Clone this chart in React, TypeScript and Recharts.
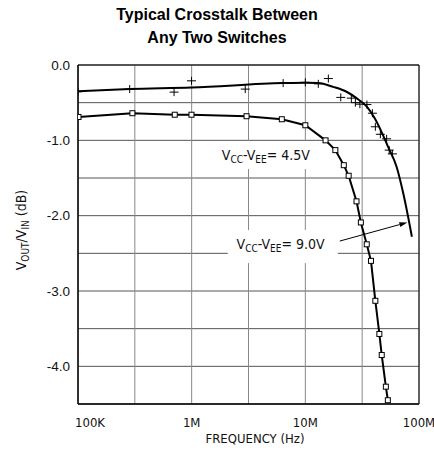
import {
  ComposedChart,
  Line,
  Scatter,
  XAxis,
  YAxis,
  CartesianGrid,
  ReferenceArea,
  ReferenceDot,
  ReferenceLine,
  Customized,
} from 'recharts'

// plotter-style font for the axis texts, Arial-like for title and y ticks
const DIN = '"DejaVu Sans Condensed", "DejaVu Sans", sans-serif'
const ARIAL = '"Liberation Sans", Arial, sans-serif'

// x axis: log frequency, grid every half decade, labels on decades
const xTicks = [100000, 316228, 1000000, 3162278, 10000000, 31622777, 100000000]
const xLabelValues = [100000, 1000000, 10000000, 100000000]
const xLabelTexts = ['100K', '1M', '10M', '100M']

// y axis: dB, grid every 0.5
const yTicks = [0, -0.5, -1, -1.5, -2, -2.5, -3, -3.5, -4, -4.5]

// curve with square markers
const squareFreq = [101000, 301000, 710000, 996000, 3040000, 6210000, 10000000, 15060000, 18370000, 21800000,
  24050000, 28200000, 30800000, 34700000, 37800000, 41300000, 44800000, 47000000, 51100000, 53200000]
const squareDb = [-0.69, -0.64, -0.66, -0.66, -0.68, -0.72, -0.8, -1.0, -1.13, -1.33,
  -1.47, -1.81, -2.09, -2.38, -2.6, -3.13, -3.57, -3.85, -4.27, -4.45]

// smooth curve drawn through the "+" measurements
const upperFreq = [100000, 285000, 1000000, 6380000, 10000000, 13000000, 17570000, 23050000, 28200000,
  34600000, 40900000, 46900000, 53600000, 63500000, 72600000, 80300000, 86600000]
const upperDb = [-0.35, -0.32, -0.3, -0.24, -0.235, -0.24, -0.29, -0.355, -0.44,
  -0.55, -0.71, -0.89, -1.09, -1.35, -1.7, -2.02, -2.28]

// "+" measurement points
const plusFreq = [100000, 285000, 700000, 996000, 2960000, 6380000, 10000000, 13000000, 15940000, 20500000,
  25400000, 27550000, 30200000, 34800000, 38900000, 41300000, 45700000, 51900000, 54700000, 58300000]
const plusDb = [-0.355, -0.32, -0.36, -0.21, -0.32, -0.24, -0.23, -0.25, -0.18, -0.43,
  -0.44, -0.5, -0.52, -0.525, -0.64, -0.82, -0.92, -0.98, -1.13, -1.18]

// annotations
const label45 = { f: 1840000, v: -1.255, text: '4.5V' }
const label90 = { f: 2480000, v: -2.448, text: '9.0V' }
const arrowFrom = { x: 20100000, y: -2.337 }
const arrowTo = { x: 79000000, y: -2.09 }

const squares = squareFreq.map((f, i) => ({ f, v: squareDb[i] }))
const upper = upperFreq.map((f, i) => ({ f, v: upperDb[i] }))
const pluses = plusFreq.map((f, i) => ({ f, v: plusDb[i] }))

function SquareDot(props: any) {
  const { cx, cy } = props
  if (cx == null || cy == null) return null
  return <rect x={cx - 2.5} y={cy - 2.5} width={5} height={5} fill="#fff" stroke="#000" strokeWidth={1} />
}

function PlusShape(props: any) {
  const { cx, cy } = props
  if (cx == null || cy == null) return null
  return (
    <path d={`M${cx - 4.5},${cy}H${cx + 4.5}M${cx},${cy - 4}V${cy + 4}`} stroke="#000" strokeWidth={1} fill="none" />
  )
}

function XTick(props: any) {
  const { x, y, payload } = props
  const i = xLabelValues.indexOf(payload.value)
  if (i < 0) return null
  const first = i === 0
  return (
    <text x={first ? x - 3 : x} y={y + 15} textAnchor={first ? 'start' : 'middle'}
      fontFamily={DIN} fontSize={13} fill="#111">
      {xLabelTexts[i]}
    </text>
  )
}

function supplyLabel(value: string, box: number[]) {
  return (props: any) => {
    const { cx, cy } = props
    return (
      <g>
        <rect x={cx + box[0]} y={cy + box[1]} width={box[2]} height={box[3]} fill="#fff" />
        <text x={cx} y={cy} fontFamily={DIN} fontSize={14} fill="#111">
          V<tspan fontSize={10} dy={3}>CC</tspan>
          <tspan dy={-3}>-V</tspan>
          <tspan fontSize={10} dy={3}>EE</tspan>
          <tspan dy={-3}>= {value}</tspan>
        </text>
      </g>
    )
  }
}

function ArrowShape(props: any) {
  const { x1, y1, x2, y2 } = props
  if ([x1, y1, x2, y2].some((n) => n == null)) return null
  const a = Math.atan2(y2 - y1, x2 - x1)
  const len = 8
  const w = 2.5
  const bx = x2 - len * Math.cos(a)
  const by = y2 - len * Math.sin(a)
  const px = -Math.sin(a) * w
  const py = Math.cos(a) * w
  return (
    <g>
      <line x1={x1} y1={y1} x2={bx} y2={by} stroke="#000" strokeWidth={1} />
      <path d={`M${x2},${y2}L${bx + px},${by + py}L${bx - px},${by - py}Z`} fill="#000" />
    </g>
  )
}

function Texts() {
  return (
    <g>
      <text x={217} y={20} textAnchor="middle" fontFamily={ARIAL} fontSize={16} fontWeight="bold" fill="#000">
        Typical Crosstalk Between
      </text>
      <text x={217} y={43} textAnchor="middle" fontFamily={ARIAL} fontSize={16} fontWeight="bold" fill="#000">
        Any Two Switches
      </text>
      <text x={255} y={443} textAnchor="middle" fontFamily={DIN} fontSize={13} fill="#111">
        FREQUENCY (Hz)
      </text>
      <text x={25.5} y={230} transform="rotate(-90 25.5 230)" textAnchor="middle" fontFamily={DIN} fontSize={14} fill="#111">
        V<tspan fontSize={10} dy={3}>OUT</tspan>
        <tspan dy={-3}>/V</tspan>
        <tspan fontSize={10} dy={3}>IN</tspan>
        <tspan dy={-3}> (dB)</tspan>
      </text>
    </g>
  )
}

export default function App() {
  return (
    <div style={{ position: 'absolute', left: 0, top: 0, background: '#fff' }}>
      <ComposedChart width={434} height={457} margin={{ top: 65, right: 15, left: 8, bottom: 13 }}>
        <CartesianGrid vertical={false} stroke="#555" />
        <CartesianGrid horizontal={false} stroke="#888" />
        <XAxis
          dataKey="f"
          type="number"
          scale="log"
          domain={[100000, 100000000]}
          ticks={xTicks}
          allowDataOverflow
          height={40}
          tickLine={false}
          axisLine={{ stroke: '#000' }}
          tick={<XTick />}
          interval={0}
        />
        <YAxis
          type="number"
          domain={[-4.5, 0]}
          ticks={yTicks}
          allowDataOverflow
          width={70}
          tickLine={false}
          axisLine={{ stroke: '#000' }}
          interval={0}
          tickFormatter={(v: number) => (Number.isInteger(v) ? v.toFixed(1) : '')}
          tick={{ fontFamily: ARIAL, fontSize: 13.5, fill: '#111' }}
        />
        <ReferenceArea x1={100000} x2={100000000} y1={-4.5} y2={0} fill="none" stroke="#000" strokeWidth={1} />
        <ReferenceDot x={label45.f} y={label45.v} r={1} shape={supplyLabel(label45.text, [-4, -18.5, 96, 28])} />
        <ReferenceDot x={label90.f} y={label90.v} r={1} shape={supplyLabel(label90.text, [-8.7, -19.3, 110, 33])} />
        <ReferenceLine segment={[arrowFrom, arrowTo]} shape={ArrowShape} />
        <Line
          data={upper}
          dataKey="v"
          type="monotone"
          stroke="#000"
          strokeWidth={2}
          dot={false}
          isAnimationActive={false}
        />
        <Line
          data={squares}
          dataKey="v"
          type="linear"
          stroke="#000"
          strokeWidth={2}
          dot={SquareDot}
          isAnimationActive={false}
        />
        <Scatter data={pluses} dataKey="v" shape={PlusShape} isAnimationActive={false} />
        <Customized component={Texts} />
      </ComposedChart>
    </div>
  )
}
